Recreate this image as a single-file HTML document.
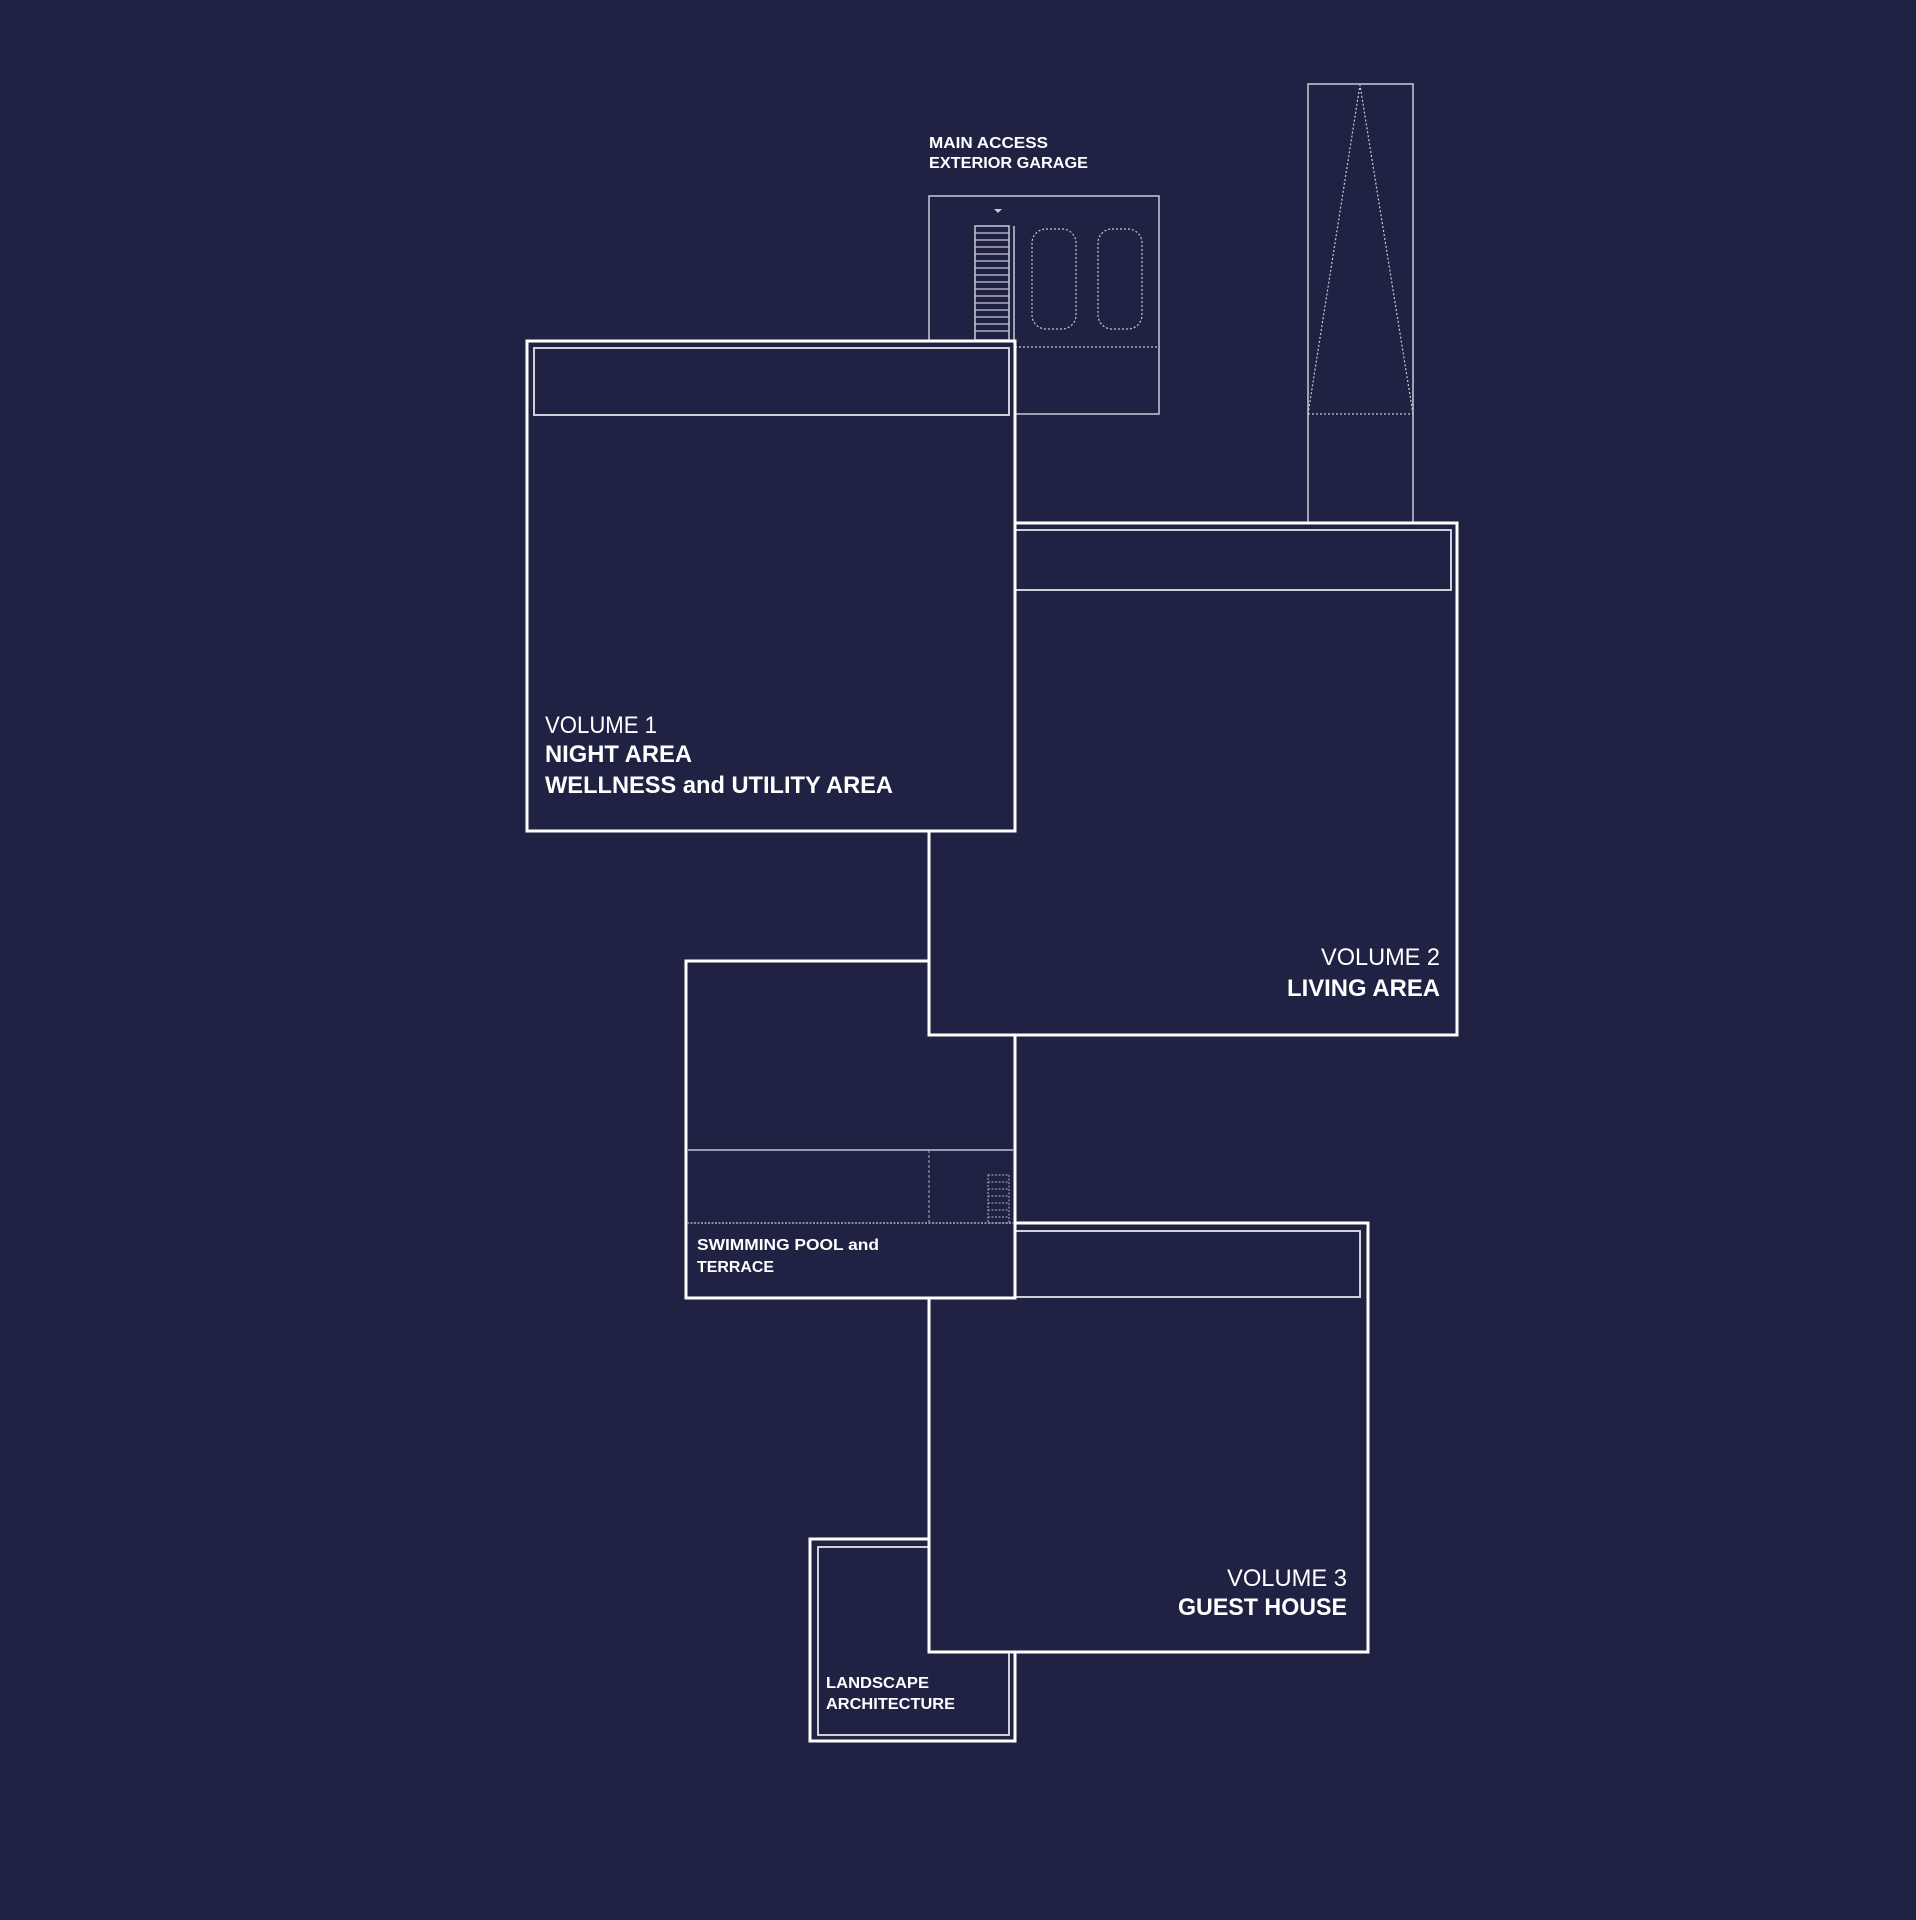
<!DOCTYPE html>
<html><head><meta charset="utf-8"><style>
html,body{margin:0;padding:0;background:#202243;}
svg{display:block}
text{font-family:"Liberation Sans",sans-serif;fill:#fff}
</style></head><body>
<svg width="1916" height="1920" viewBox="0 0 1916 1920" xmlns="http://www.w3.org/2000/svg">
<rect width="1916" height="1920" fill="#202243"/>
<!-- garage -->
<g stroke="#c9c9d4" stroke-width="1.5" fill="none">
<rect x="929" y="196" width="230" height="218"/>
<rect x="975" y="226" width="34" height="114"/>
<line x1="1014" y1="226" x2="1014" y2="340"/>
<g stroke-width="1.2">
<line x1="975" y1="233" x2="1009" y2="233"/><line x1="975" y1="240" x2="1009" y2="240"/><line x1="975" y1="247" x2="1009" y2="247"/><line x1="975" y1="254" x2="1009" y2="254"/><line x1="975" y1="261" x2="1009" y2="261"/><line x1="975" y1="268" x2="1009" y2="268"/><line x1="975" y1="275" x2="1009" y2="275"/><line x1="975" y1="282" x2="1009" y2="282"/><line x1="975" y1="289" x2="1009" y2="289"/><line x1="975" y1="296" x2="1009" y2="296"/><line x1="975" y1="303" x2="1009" y2="303"/><line x1="975" y1="310" x2="1009" y2="310"/><line x1="975" y1="317" x2="1009" y2="317"/><line x1="975" y1="324" x2="1009" y2="324"/><line x1="975" y1="331" x2="1009" y2="331"/>
</g>
<g stroke-dasharray="2 2" stroke-width="1.2">
<rect x="1032" y="229" width="44" height="100" rx="14"/>
<rect x="1098" y="229" width="44" height="100" rx="14"/>
<line x1="1015" y1="347" x2="1159" y2="347"/>
</g>
</g>
<path d="M994 209 L1002 209 L998 213 Z" fill="#c9c9d4"/>
<text font-size="16" font-weight="bold" x="929" y="148" textLength="119" lengthAdjust="spacingAndGlyphs">MAIN ACCESS</text>
<text font-size="16" font-weight="bold" x="929" y="168" textLength="159" lengthAdjust="spacingAndGlyphs">EXTERIOR GARAGE</text>
<!-- tower -->
<g stroke="#c9c9d4" stroke-width="1.5" fill="none">
<rect x="1308" y="84" width="105" height="440"/>
<g stroke-dasharray="2 2" stroke-width="1.2">
<polyline points="1308,414 1360,85 1413,414"/>
<line x1="1308" y1="414" x2="1413" y2="414"/>
</g>
</g>
<!-- landscape -->
<rect x="810" y="1539" width="205" height="202" fill="#202243" stroke="#fff" stroke-width="3"/>
<rect x="818" y="1547" width="191" height="188" fill="none" stroke="#d0d0da" stroke-width="2"/>
<text font-size="16" font-weight="bold" x="826" y="1688" textLength="103" lengthAdjust="spacingAndGlyphs">LANDSCAPE</text>
<text font-size="16" font-weight="bold" x="826" y="1709" textLength="129" lengthAdjust="spacingAndGlyphs">ARCHITECTURE</text>
<!-- vol3 -->
<rect x="929" y="1223" width="439" height="429" fill="#202243" stroke="#fff" stroke-width="3"/>
<rect x="1015" y="1231" width="345" height="66" fill="none" stroke="#d0d0da" stroke-width="2"/>
<text font-size="24" x="1347" y="1586" text-anchor="end" textLength="120" lengthAdjust="spacingAndGlyphs">VOLUME 3</text>
<text font-size="24" font-weight="bold" x="1347" y="1615" text-anchor="end" textLength="169" lengthAdjust="spacingAndGlyphs">GUEST HOUSE</text>
<!-- pool -->
<rect x="686" y="961" width="329" height="337" fill="#202243" stroke="#fff" stroke-width="3"/>
<line x1="687" y1="1150" x2="1014" y2="1150" stroke="#9a9ab0" stroke-width="2"/>
<line x1="929" y1="1150" x2="929" y2="1223" stroke="#b0b0c0" stroke-width="1" stroke-dasharray="3 2"/>
<line x1="687" y1="1223" x2="1014" y2="1223" stroke="#b0b0c0" stroke-width="1.5" stroke-dasharray="2 1.5"/>
<g stroke="#b0b0c0" stroke-width="1" stroke-dasharray="2 1.5" fill="none">
<rect x="988" y="1175" width="21" height="48"/>
<line x1="988" y1="1182" x2="1009" y2="1182"/><line x1="988" y1="1189" x2="1009" y2="1189"/><line x1="988" y1="1196" x2="1009" y2="1196"/><line x1="988" y1="1203" x2="1009" y2="1203"/><line x1="988" y1="1210" x2="1009" y2="1210"/><line x1="988" y1="1217" x2="1009" y2="1217"/>
</g>
<text font-size="16" font-weight="bold" x="697" y="1250" textLength="182" lengthAdjust="spacingAndGlyphs">SWIMMING POOL and</text>
<text font-size="16" font-weight="bold" x="697" y="1272" textLength="77" lengthAdjust="spacingAndGlyphs">TERRACE</text>
<!-- vol2 -->
<rect x="929" y="523" width="528" height="512" fill="#202243" stroke="#fff" stroke-width="3"/>
<rect x="1015" y="530" width="436" height="60" fill="none" stroke="#d0d0da" stroke-width="2"/>
<text font-size="24" x="1440" y="965" text-anchor="end" textLength="119" lengthAdjust="spacingAndGlyphs">VOLUME 2</text>
<text font-size="24" font-weight="bold" x="1440" y="996" text-anchor="end" textLength="153" lengthAdjust="spacingAndGlyphs">LIVING AREA</text>
<!-- vol1 -->
<rect x="527" y="341" width="488" height="490" fill="#202243" stroke="#fff" stroke-width="3"/>
<rect x="534" y="348" width="475" height="67" fill="none" stroke="#d0d0da" stroke-width="2"/>
<text font-size="24" x="545" y="733" textLength="112" lengthAdjust="spacingAndGlyphs">VOLUME 1</text>
<text font-size="24" font-weight="bold" x="545" y="762" textLength="147" lengthAdjust="spacingAndGlyphs">NIGHT AREA</text>
<text font-size="24" font-weight="bold" x="545" y="793" textLength="348" lengthAdjust="spacingAndGlyphs">WELLNESS and UTILITY AREA</text>
</svg>
</body></html>
